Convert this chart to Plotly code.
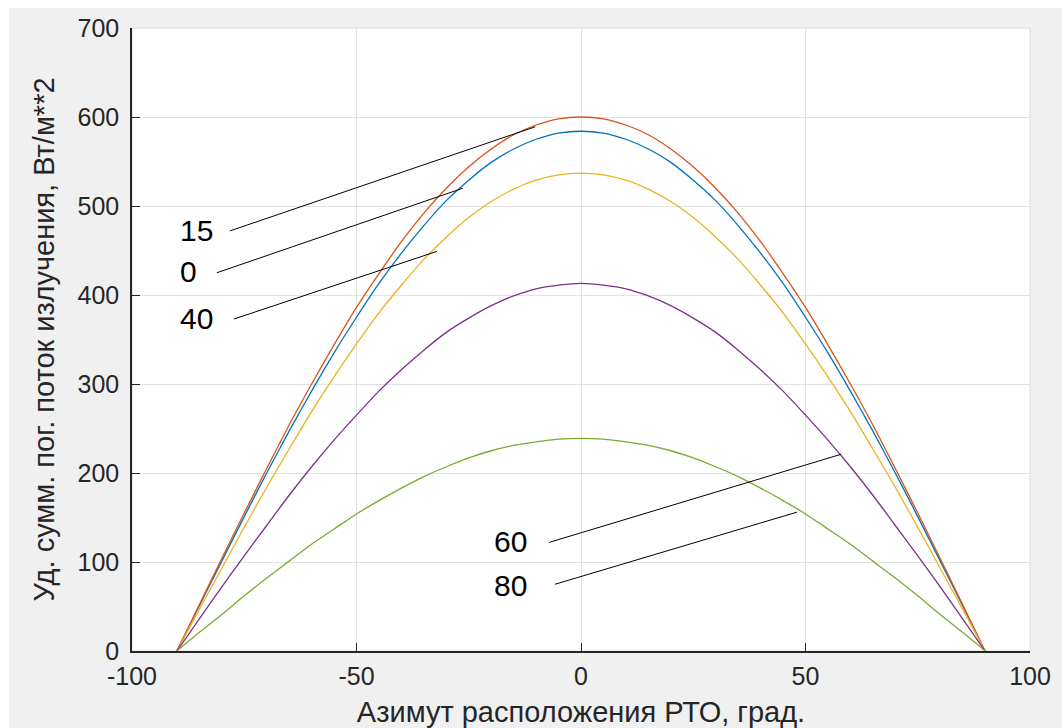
import plotly.graph_objects as go

azimuth = [-90, -85, -80, -75, -70, -65, -60, -55, -50, -45, -40, -35, -30, -25, -20, -15, -10, -5,
           0, 5, 10, 15, 20, 25, 30, 35, 40, 45, 50, 55, 60, 65, 70, 75, 80, 85, 90]

half_0 = [0, 51, 101, 151, 200, 247, 292, 335, 375, 413, 447, 478, 506, 529, 549, 564, 575, 582, 584]
half_15 = [0, 52, 104, 155, 205, 254, 300, 344, 386, 424, 460, 492, 520, 544, 564, 580, 591, 598, 600]
half_40 = [0, 47, 93, 139, 184, 227, 269, 308, 345, 380, 411, 440, 465, 487, 505, 519, 529, 535, 537]
half_60 = [0, 36, 72, 107, 141, 175, 207, 237, 265, 292, 316, 338, 358, 374, 388, 399, 407, 411, 413]
half_80 = [0, 21, 41, 62, 82, 101, 120, 137, 154, 169, 183, 196, 207, 217, 225, 231, 235, 238, 239]

flux_0 = half_0 + half_0[-2::-1]
flux_15 = half_15 + half_15[-2::-1]
flux_40 = half_40 + half_40[-2::-1]
flux_60 = half_60 + half_60[-2::-1]
flux_80 = half_80 + half_80[-2::-1]

x_ticks = [-100, -50, 0, 50, 100]
x_ticktext = ["-100", "-50", "0", "50", "100"]
y_ticks = [0, 100, 200, 300, 400, 500, 600, 700]

series = [
    ("0", flux_0, "#0072BD"),
    ("15", flux_15, "#D95319"),
    ("40", flux_40, "#EDB120"),
    ("60", flux_60, "#7E2F8E"),
    ("80", flux_80, "#77AC30"),
]

# label text (left x, centre y) and leader line start/end in data coords
labels = [
    ("15", -89.8, 473, -78.2, 472, -10.2, 589),
    ("0", -89.8, 426, -81.1, 425, -26.3, 520),
    ("40", -89.8, 374, -77.3, 373, -32.1, 449),
    ("60", -19.8, 123, -7.1, 122, 57.9, 221),
    ("80", -19.8, 74, -5.8, 75, 48.1, 156),
]

fig = go.Figure()
for name, ys, col in series:
    fig.add_trace(go.Scatter(x=azimuth, y=ys, mode="lines", name=name,
                             line=dict(color=col, width=1.3, shape="spline", smoothing=0.8),
                             showlegend=False, hoverinfo="skip"))

for txt, tx, ty, x0, y0, x1, y1 in labels:
    fig.add_trace(go.Scatter(x=[x0, x1], y=[y0, y1], mode="lines",
                             line=dict(color="black", width=1), showlegend=False, hoverinfo="skip"))
    fig.add_annotation(x=tx, y=ty, text=txt, showarrow=False, xanchor="left", yanchor="middle",
                       font=dict(family="Liberation Sans, Arial", size=30, color="black"))

shapes = [
    dict(type="rect", xref="paper", yref="paper", x0=0, x1=1, y0=0, y1=1,
         line=dict(color="#dcdcdc", width=1), layer="below"),
    dict(type="rect", xref="paper", yref="paper", x0=-0.2, x1=1.1, y0=1.032, y1=1.1,
         fillcolor="white", line=dict(width=0), layer="below"),
    dict(type="rect", xref="paper", yref="paper", x0=-0.2, x1=-0.137, y0=-0.2, y1=1.1,
         fillcolor="white", line=dict(width=0), layer="below"),
]

axis_font = dict(family="Liberation Sans, Arial", size=25, color="#262626")
title_font = dict(family="Liberation Sans, Arial", size=29, color="#262626")
fig.update_layout(
    width=1062, height=728,
    margin=dict(l=132, r=32, t=28, b=77),
    paper_bgcolor="#f0f0f0", plot_bgcolor="white",
    shapes=shapes,
    xaxis=dict(range=[-100, 100], tickvals=x_ticks, ticktext=x_ticktext, ticks="inside", ticklen=8,
               tickcolor="#262626", showline=True, linecolor="#262626", linewidth=1.5,
               showgrid=True, gridcolor="#e3e3e3", gridwidth=1, zeroline=False, automargin=False,
               tickfont=axis_font, ticklabelstandoff=2,
               title=dict(text="Азимут расположения РТО, град.", font=title_font, standoff=14)),
    yaxis=dict(range=[0, 700], tickvals=y_ticks, ticks="inside", ticklen=8,
               tickcolor="#262626", showline=True, linecolor="#262626", linewidth=1.5,
               showgrid=True, gridcolor="#e3e3e3", gridwidth=1, zeroline=False, automargin=False,
               tickfont=axis_font, ticklabelstandoff=6,
               title=dict(text="Уд. сумм. пог. поток излучения, Вт/м**2", font=title_font, standoff=14)),
)

fig.write_html("out.html")
